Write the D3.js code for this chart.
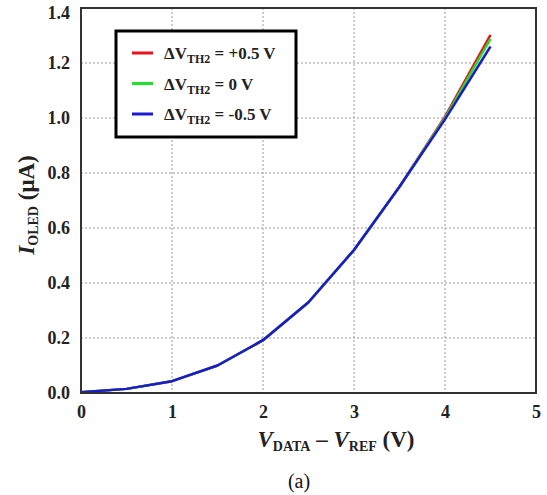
<!DOCTYPE html>
<html>
<head>
<meta charset="utf-8">
<script src="https://cdn.jsdelivr.net/npm/d3@7"></script>
<style>
  body { margin: 0; background: #fff; }
  svg text { font-family: "Liberation Serif", "Times New Roman", serif; }
</style>
</head>
<body>
<svg id="chart" width="547" height="495"></svg>
<script>
var vData = [0, 0.5, 1, 1.5, 2, 2.5, 3, 3.5, 4, 4.5];
var iPlus = [0.003, 0.015, 0.043, 0.1, 0.192, 0.33, 0.52, 0.75, 1.005, 1.302];
var iZero = [0.003, 0.015, 0.043, 0.1, 0.192, 0.33, 0.52, 0.75, 1.0, 1.288];
var iMinus = [0.003, 0.015, 0.043, 0.1, 0.192, 0.33, 0.52, 0.75, 0.995, 1.26];
var xTicks = [0, 1, 2, 3, 4, 5];
var yTicks = [0, 0.2, 0.4, 0.6, 0.8, 1.0, 1.2, 1.4];
var seriesNames = ["+0.5 V", "0 V", "-0.5 V"];
var seriesColors = ["#e8141b", "#22e02a", "#1a1ad0"];

var drawChart = function () {
    var svg = d3.select("#chart");
    var pLeft = 81, pRight = 536, pTop = 8, pBottom = 393;

    var x = d3.scaleLinear().domain([0, 5]).range([pLeft, pRight]);
    var y = d3.scaleLinear().domain([0, 1.4]).range([pBottom, pTop]);

    // grid
    var grid = svg.append("g");
    grid.selectAll(".vg").data(xTicks.slice(1, -1)).enter().append("line")
        .attr("x1", function (d) { return x(d); }).attr("x2", function (d) { return x(d); })
        .attr("y1", pTop).attr("y2", pBottom)
        .attr("stroke", "#999").attr("stroke-width", 1).attr("stroke-dasharray", "2,2");
    grid.selectAll(".hg").data(yTicks.slice(1, -1)).enter().append("line")
        .attr("x1", pLeft).attr("x2", pRight)
        .attr("y1", function (d) { return y(d); }).attr("y2", function (d) { return y(d); })
        .attr("stroke", "#999").attr("stroke-width", 1).attr("stroke-dasharray", "2,2");

    // axes with labels only
    var xAxis = d3.axisBottom(x).tickValues(xTicks).tickSize(0).tickPadding(12)
        .tickFormat(d3.format("d"));
    var yAxis = d3.axisLeft(y).tickValues(yTicks).tickSize(0).tickPadding(11)
        .tickFormat(d3.format(".1f"));
    var gx = svg.append("g").attr("transform", "translate(0," + pBottom + ")").call(xAxis);
    var gy = svg.append("g").attr("transform", "translate(" + pLeft + ",0)").call(yAxis);
    [gx, gy].forEach(function (g) {
        g.select(".domain").remove();
        g.selectAll("text").attr("font-family", "Liberation Serif").attr("font-weight", "bold")
            .attr("font-size", 18).attr("fill", "#222");
    });
    // top label sits a little lower in the figure so it is not clipped
    gy.selectAll(".tick").filter(function (d) { return d === 1.4; })
        .select("text").attr("y", 5);

    // curves: red, green, then blue on top (blue is what shows where they overlap)
    var allSeries = [iPlus, iZero, iMinus];
    var line = d3.line()
        .x(function (d, i) { return x(vData[i]); })
        .y(function (d) { return y(d); });
    [0, 1, 2].forEach(function (k) {
        svg.append("path").datum(allSeries[k])
            .attr("d", line).attr("fill", "none")
            .attr("stroke", seriesColors[k]).attr("stroke-width", 2.5)
            .attr("stroke-linejoin", "round");
    });

    // frame
    svg.append("rect").attr("x", pLeft).attr("y", pTop)
        .attr("width", pRight - pLeft).attr("height", pBottom - pTop)
        .attr("fill", "none").attr("stroke", "#333").attr("stroke-width", 2);

    // legend
    var lg = svg.append("g");
    lg.append("rect").attr("x", 116).attr("y", 31).attr("width", 180).attr("height", 106)
        .attr("fill", "#fff").attr("stroke", "#000").attr("stroke-width", 3);
    seriesNames.forEach(function (name, i) {
        var ly = 53 + i * 30.5;
        lg.append("line").attr("x1", 132).attr("x2", 153).attr("y1", ly).attr("y2", ly)
            .attr("stroke", seriesColors[i]).attr("stroke-width", 3);
        var t = lg.append("text").attr("x", 164).attr("y", ly + 6)
            .attr("font-weight", "bold").attr("font-size", 17).attr("fill", "#222");
        t.append("tspan").text("\u0394V");
        t.append("tspan").attr("font-size", 12).attr("dy", 4).text("TH2");
        t.append("tspan").attr("dy", -4).text(" = " + name);
    });

    // axis titles
    var xt = svg.append("text").attr("x", 336).attr("y", 447).attr("text-anchor", "middle")
        .attr("font-weight", "bold").attr("font-size", 23).attr("fill", "#222");
    xt.append("tspan").attr("font-style", "italic").text("V");
    xt.append("tspan").attr("font-size", 14).attr("dy", 4).text("DATA");
    xt.append("tspan").attr("dy", -4).text(" \u2013 ");
    xt.append("tspan").attr("font-style", "italic").text("V");
    xt.append("tspan").attr("font-size", 14).attr("dy", 4).text("REF");
    xt.append("tspan").attr("dy", -4).text(" (V)");

    var yt = svg.append("text").attr("transform", "translate(34,205) rotate(-90)")
        .attr("text-anchor", "middle")
        .attr("font-weight", "bold").attr("font-size", 23).attr("fill", "#222");
    yt.append("tspan").attr("font-style", "italic").text("I");
    yt.append("tspan").attr("font-size", 14).attr("dy", 4).text("OLED");
    yt.append("tspan").attr("dy", -4).text(" (\u03bcA)");

    svg.append("text").attr("x", 299).attr("y", 488).attr("text-anchor", "middle")
        .attr("font-size", 20).attr("fill", "#111").text("(a)");
};

drawChart();
</script>
</body>
</html>
